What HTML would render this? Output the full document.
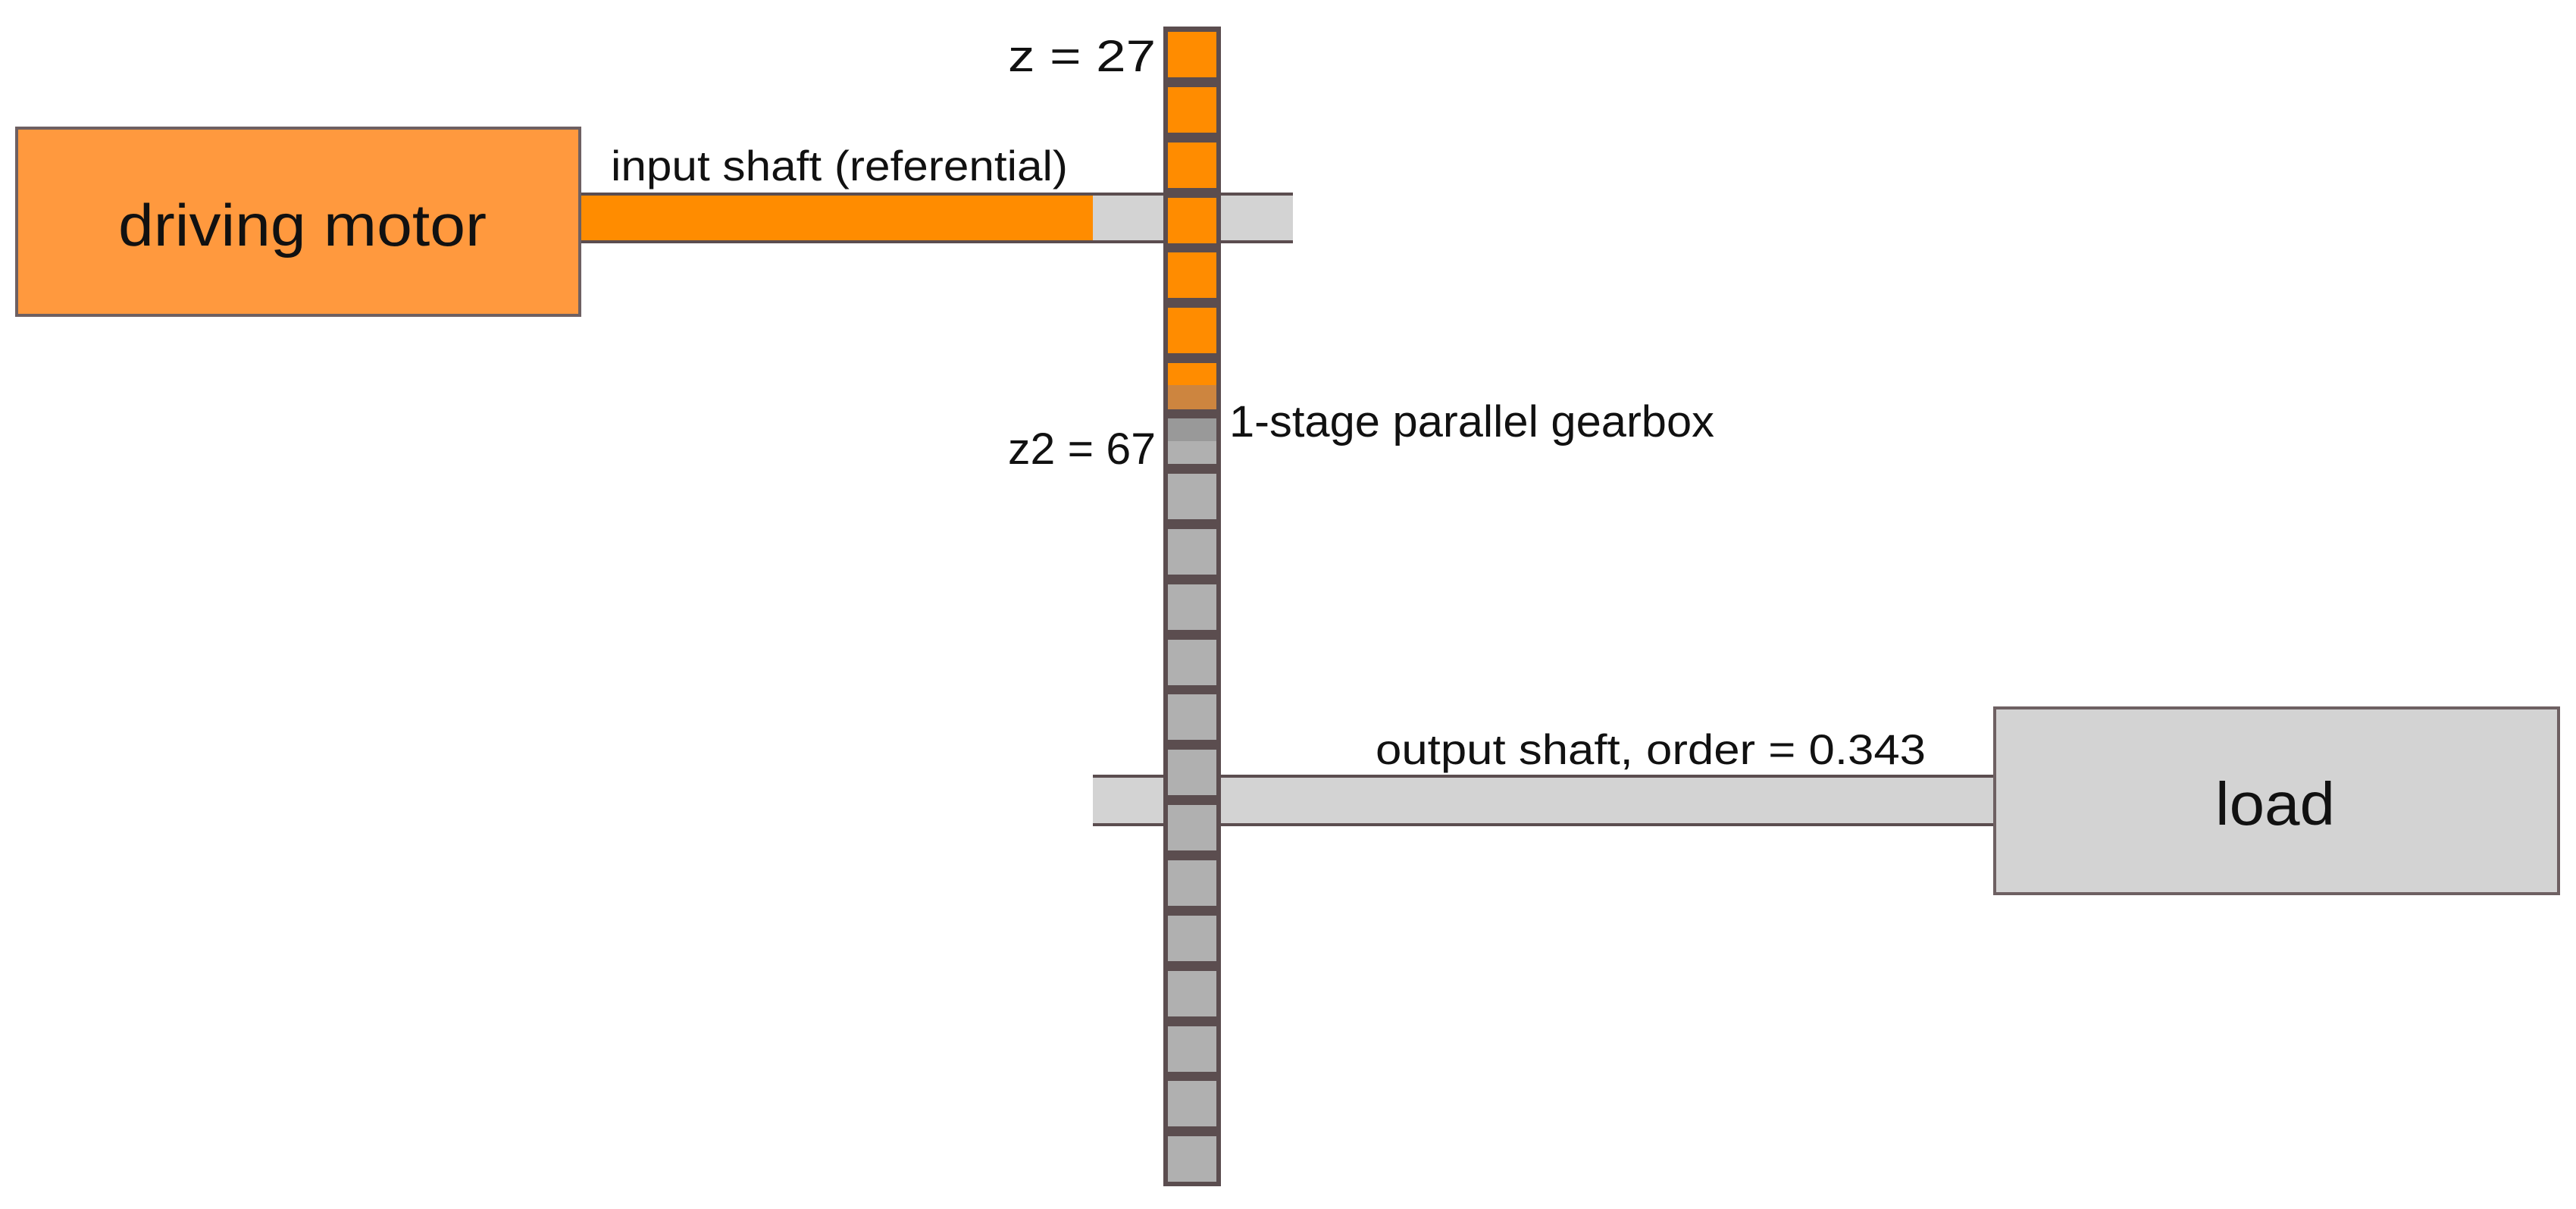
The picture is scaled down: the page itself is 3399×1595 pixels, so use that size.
<!DOCTYPE html>
<html><head><meta charset="utf-8"><style>
html,body{margin:0;padding:0;background:#fff;}
svg{display:block;}
text{font-family:"Liberation Sans",sans-serif;fill:#111;}
</style></head><body>
<svg width="3399" height="1595" viewBox="0 0 3399 1595" xmlns="http://www.w3.org/2000/svg">
<!-- driving motor -->
<rect x="22" y="169" width="743" height="247" fill="#FF993E" stroke="#6e6062" stroke-width="4"/>
<text x="156" y="324" font-size="78" textLength="486" lengthAdjust="spacingAndGlyphs">driving motor</text>
<!-- input shaft -->
<rect x="767" y="256" width="939" height="63" fill="#D3D3D3"/>
<rect x="767" y="256" width="675" height="63" fill="#FF8C00"/>
<line x1="767" y1="256" x2="1706" y2="256" stroke="#5b4d4f" stroke-width="4"/>
<line x1="767" y1="319" x2="1706" y2="319" stroke="#5b4d4f" stroke-width="4"/>
<text x="806" y="238" font-size="56" textLength="603" lengthAdjust="spacingAndGlyphs">input shaft (referential)</text>
<!-- output shaft -->
<rect x="1442" y="1024" width="1188" height="64" fill="#D3D3D3"/>
<line x1="1442" y1="1024" x2="2630" y2="1024" stroke="#5b4d4f" stroke-width="4"/>
<line x1="1442" y1="1088" x2="2630" y2="1088" stroke="#5b4d4f" stroke-width="4"/>
<text x="1815" y="1008" font-size="56" textLength="726" lengthAdjust="spacingAndGlyphs">output shaft, order = 0.343</text>
<!-- load -->
<rect x="2632" y="934" width="744" height="245" fill="#D3D3D3" stroke="#6e6062" stroke-width="4"/>
<text x="2923" y="1088" font-size="80" textLength="158" lengthAdjust="spacingAndGlyphs">load</text>
<!-- gear column -->
<rect x="1535" y="35" width="76" height="1530" fill="#5b4d4f"/>
<g stroke="#5b4d4f" stroke-width="2">
<rect x="1540" y="41" width="66" height="62" fill="#FF8C00"/>
<rect x="1540" y="114" width="66" height="62" fill="#FF8C00"/>
<rect x="1540" y="187" width="66" height="62" fill="#FF8C00"/>
<rect x="1540" y="260" width="66" height="62" fill="#FF8C00"/>
<rect x="1540" y="332" width="66" height="62" fill="#FF8C00"/>
<rect x="1540" y="405" width="66" height="62" fill="#FF8C00"/>
<rect x="1540" y="478" width="66" height="62" fill="#FF8C00"/>
<rect x="1540" y="551" width="66" height="62" fill="#B0B0B0"/>
<rect x="1540" y="624" width="66" height="62" fill="#B0B0B0"/>
<rect x="1540" y="697" width="66" height="62" fill="#B0B0B0"/>
<rect x="1540" y="770" width="66" height="62" fill="#B0B0B0"/>
<rect x="1540" y="843" width="66" height="62" fill="#B0B0B0"/>
<rect x="1540" y="915" width="66" height="62" fill="#B0B0B0"/>
<rect x="1540" y="988" width="66" height="62" fill="#B0B0B0"/>
<rect x="1540" y="1061" width="66" height="62" fill="#B0B0B0"/>
<rect x="1540" y="1134" width="66" height="62" fill="#B0B0B0"/>
<rect x="1540" y="1207" width="66" height="62" fill="#B0B0B0"/>
<rect x="1540" y="1280" width="66" height="62" fill="#B0B0B0"/>
<rect x="1540" y="1353" width="66" height="62" fill="#B0B0B0"/>
<rect x="1540" y="1425" width="66" height="62" fill="#B0B0B0"/>
<rect x="1540" y="1498" width="66" height="62" fill="#B0B0B0"/>
</g>
<!-- blend region -->
<rect x="1541" y="508" width="64" height="32" fill="#CD853F"/>
<rect x="1541" y="552" width="64" height="30" fill="#999999"/>
<!-- labels -->
<text x="1330" y="94" font-size="58" textLength="195" lengthAdjust="spacingAndGlyphs">z = 27</text>
<text x="1330" y="612" font-size="58" textLength="195" lengthAdjust="spacingAndGlyphs">z2 = 67</text>
<text x="1622" y="576" font-size="58" textLength="640" lengthAdjust="spacingAndGlyphs">1-stage parallel gearbox</text>
</svg>
</body></html>
